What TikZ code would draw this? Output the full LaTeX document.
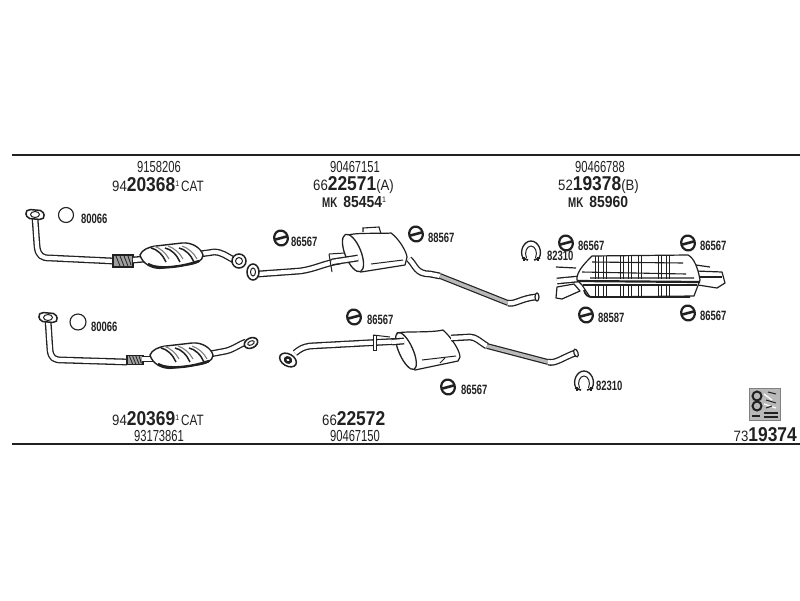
\documentclass[tikz,border=0pt]{standalone}
\usepackage{fontspec}
\setmainfont{Liberation Sans}
\newfontfamily\nrw{Liberation Sans}[FakeStretch=0.88]
\newfontfamily\nrwc{Liberation Sans}[FakeStretch=0.78]
\newfontfamily\nrws{Liberation Sans}[FakeStretch=0.7]
\newfontfamily\nrwb{Liberation Sans Bold}[FakeStretch=0.87]
\newfontfamily\codefont{Liberation Sans Bold}[FakeStretch=0.7]
\definecolor{ink}{gray}{0.13}
\newcommand{\pn}[2]{{\fontsize{15}{15}\nrw #1}{\fontsize{20}{20}\nrwb #2}}
\newcommand{\supone}{\raisebox{5pt}{\fontsize{8}{8}\nrw 1}}
\newcommand{\catword}{\hspace{2pt}{\fontsize{15}{15}\nrwc CAT}}
\tikzset{
  x=1pt,y=-1pt,
  small/.style={font=\fontsize{16}{16}\nrws,text=ink,inner sep=0pt},
  code/.style={font=\fontsize{13.5}{13.5}\codefont,text=ink,inner sep=0pt,anchor=west},
  title/.style={text=ink,inner sep=0pt},
  mk/.style={font=\fontsize{16}{16}\nrwb,text=ink,inner sep=0pt},
  rulerline/.style={line width=2pt,draw=ink},
  pipe/.style={draw=ink,double=white,line width=1.3pt,double distance=4.2pt,line join=round},
  hatched/.style={draw=ink,double=gray!55,line width=1.2pt,double distance=3.4pt,line join=round},
  part/.style={draw=ink,fill=white,line width=1.2pt,line join=round},
  thin part/.style={draw=ink,line width=.8pt},
  hanger/.pic={
    \draw[ink,line width=2.2pt,fill=white,rotate=15] (0,0) ellipse (6.8 and 7.5);
    \draw[ink,line width=2.6pt,rotate=15] (-6,0) -- (6,0);
  },
  clamp/.pic={
    \draw[ink,line width=1.3pt,line join=round] (-8,7) .. controls (-12,0) and (-7,-10) .. (0,-10) .. controls (7,-10) and (12,0) .. (8,7);
    \draw[ink,line width=1pt] (-4.5,7) .. controls (-7,1) and (-4,-5) .. (0,-5) .. controls (4,-5) and (7,1) .. (4.5,7);
    \draw[ink,line width=1.6pt] (-9,7) -- (-3,9) (9,7) -- (3,9);
    \draw[ink,line width=1.3pt] (-7,6) -- (-7,10) (7,6) -- (7,10);
  },
  flangetop/.pic={
    \draw[ink,line width=1.5pt,fill=white,rotate=-5,rounded corners=2pt] (-10,-2) -- (-7,-5) -- (7,-5) -- (10,1) -- (7,4) -- (-7,4) -- cycle;
    \draw[ink,line width=1pt,fill=white] (0,-.5) ellipse (4.5 and 3);
  },
  flex/.pic={
    \fill[gray!75] (-9,-6) rectangle (9,6);
    \draw[ink,line width=1.3pt] (-10,-6) -- (10,-6) -- (10,6) -- (-10,6) -- cycle;
    \draw[ink,line width=.8pt] (-7,-5) -- (-3,5) (-3,-5) -- (1,5) (1,-5) -- (5,5) (5,-5) -- (8,4);
  },
  cat/.pic={
    \draw[part,line width=1.4pt] (-32,-1) .. controls (-30,-6) and (-24,-9) .. (-16,-10) -- (10,-13) .. controls (20,-14) and (29,-8) .. (31,-1) .. controls (31,5) and (24,8) .. (14,9) -- (-8,12) .. controls (-20,14) and (-30,7) .. (-32,-1) -- cycle;
    \draw[ink,line width=2.4pt] (-24,8) .. controls (-14,14) and (10,11) .. (27,5);
    \foreach \dx in {-14,0,14}{
      \draw[ink,line width=1.5pt] (\dx-7,-8) .. controls (\dx-1,-7) and (\dx+5,-1) .. (\dx+8,6);
      \draw[gray,line width=1.1pt] (\dx-4,-10) .. controls (\dx+2,-8) and (\dx+8,-3) .. (\dx+11,3);
    }
  }
}
\begin{document}
\begin{tikzpicture}
\useasboundingbox (0,0) rectangle (800,600);
\fill[white] (0,0) rectangle (800,600);
% rules
\coordinate (rt0) at (12,155); \coordinate (rt1) at (800,155);
\coordinate (rb0) at (12,444); \coordinate (rb1) at (800,444);
\draw[rulerline] (rt0) -- (rt1);
\draw[rulerline] (rb0) -- (rb1);

% titles
\node[small] (t1) at (159,166.5) {9158206};
\node[title,anchor=west] (t2) at (112,185) {\pn{94}{20368}\supone\catword};
\node[small] (t3) at (355,166.5) {90467151};
\node[title,anchor=west] (t4) at (313,185) {\pn{66}{22571}{\fontsize{15}{15}\nrw (A)}};
\node[mk,anchor=west] (t5) at (322,201.5) {{\fontsize{14}{14}\codefont MK}\hspace{6pt}85454\supone};
\node[small] (t6) at (600,166.5) {90466788};
\node[title,anchor=west] (t7) at (558,185) {\pn{52}{19378}{\fontsize{15}{15}\nrw (B)}};
\node[mk,anchor=west] (t8) at (568,201.5) {{\fontsize{14}{14}\codefont MK}\hspace{6pt}85960};
\node[title,anchor=west] (b1) at (112,419) {\pn{94}{20369}\supone\catword};
\node[small] (b2) at (159,435.5) {93173861};
\node[title,anchor=west] (b3) at (322,419) {\pn{66}{22572}};
\node[small] (b4) at (355,435.5) {90467150};
\node[title,anchor=east] (b5) at (797,435) {\pn{73}{19374}};

% upper catalytic line
\draw[pipe] (35,218) -- (37,246) .. controls (38,256) and (42,258) .. (50,258) -- (113,261);
\pic at (35,215) {flangetop};
\pic at (123,261) {flex};
\draw[pipe] (133,260) -- (145,259);
\draw[pipe] (200,254) -- (214,252) .. controls (222,252) and (226,256) .. (234,260);
\pic at (172,256) {cat};
\draw[ink,line width=1.5pt,fill=white] (239,261) circle (7);
\draw[ink,line width=1pt] (239,261) circle (3.5);

% upper middle pipe and muffler
\draw[pipe] (258,274) -- (300,271) .. controls (315,269) and (325,263) .. (340,261);
\draw[ink,line width=1.5pt,fill=white] (253,272) ellipse (6 and 8);
\draw[ink,line width=1pt] (253,272) ellipse (2.5 and 4);
\draw[thin part,fill=white,line width=1.1pt] (363,232) -- (363,228) -- (379,227) -- (381,234);
\draw[part] (346,236) .. controls (352,232) and (380,234) .. (391,233) .. controls (398,238) and (406,250) .. (407,257) -- (405,265) -- (361,272) .. controls (352,270) and (343,250) .. (346,236) -- cycle;
\draw[ink,line width=1.3pt,fill=white,rotate around={22:(353,253)}] (353,253) ellipse (8 and 20);
\draw[pipe] (332,262) -- (358,258);
\draw[ink,line width=1pt] (329,254) -- (345,253) (329,254) -- (332,272);
\draw[ink,line width=1pt] (371,264) -- (403,260);
\draw[pipe] (409,259) .. controls (416,266) and (416,274) .. (430,274) -- (440,276);
\draw[hatched] (440,276) -- (508,303);
\draw[pipe] (508,303) .. controls (514,305) and (522,298) .. (536,297);
\draw[ink,line width=1.2pt,fill=white] (537,297) ellipse (2 and 4);

% rear muffler
\draw[ink,line width=1.2pt] (556,267) -- (576,268);
\draw[pipe] (557,281) -- (578,279);
\draw[part] (557,287) -- (556,298) -- (562,299) -- (580,291) -- (574,284) -- cycle;
\draw[ink,line width=1.2pt] (696,265) -- (710,267);
\draw[part] (696,271) -- (722,272) -- (725,283) -- (717,288) -- (698,285) -- cycle;
\draw[ink,line width=1.1pt] (696,277) -- (722,277);
\draw[part] (577,280) .. controls (576,272) and (585,263) .. (592,256) -- (688,255) .. controls (694,258) and (698,268) .. (700,280) -- (694,296) -- (590,297) -- (582,285) -- cycle;
\draw[ink,line width=2.2pt] (577,281) -- (700,282);
\draw[ink,line width=1.1pt] (582,272) -- (686,274) (592,262) -- (683,263) (590,278) -- (694,278);
\draw[ink,line width=1.1pt] (583,285) -- (697,285);
\draw[ink,line width=1.8pt] (584,290) .. controls (585,295) and (588,297) .. (592,297) -- (690,297);
\foreach \sx in {597,605,622,630,640,660,668}{
  \draw[ink,line width=1pt] (\sx-2,256) -- (\sx-2,279) (\sx+1.5,256) -- (\sx+1.5,279);
  \draw[ink,line width=1pt] (\sx-2,285) -- (\sx-2,296) (\sx+1.5,285) -- (\sx+1.5,296);
}

% lower catalytic line
\draw[pipe] (48,320) -- (50,350) .. controls (51,358) and (54,360) .. (62,360) -- (127,362);
\pic at (48,318) {flangetop};
\pic[scale=.8] at (135,360) {flex};
\draw[pipe] (142,359) -- (155,359);
\draw[pipe] (210,354) -- (226,351) .. controls (234,349) and (240,344) .. (246,342);
\pic at (182,356) {cat};
\draw[ink,line width=1.6pt,fill=white,rotate around={25:(251,343)}] (251,343) ellipse (7 and 5);
\draw[ink,line width=1pt,rotate around={25:(251,343)}] (251,343) ellipse (3.5 and 2);

% lower middle pipe and muffler
\draw[pipe] (295,353) .. controls (300,349) and (303,347) .. (310,346) -- (403,341);
\draw[ink,line width=1.5pt,fill=white,rotate around={-30:(288,360)}] (288,360) ellipse (9 and 6);
\draw[ink,line width=2.5pt,rotate around={-30:(288,360)}] (288,360) ellipse (3 and 2.5);
\draw[ink,line width=1pt] (373,335) -- (390,337);
\draw[ink,line width=1pt,fill=white] (373,335) rectangle (376,350);
\draw[part] (397,333) .. controls (405,331) and (430,333) .. (443,330) .. controls (450,336) and (460,350) .. (460,357) -- (458,361) -- (415,370) .. controls (405,365) and (396,345) .. (397,333) -- cycle;
\draw[ink,line width=1.3pt,fill=white,rotate around={24:(406,351)}] (406,351) ellipse (7 and 20);
\draw[pipe] (392,342) -- (404,341);
\draw[ink,line width=1pt] (422,360) -- (456,356) (440,363) -- (445,358);
\draw[pipe] (451,338) -- (470,337) .. controls (476,337) and (480,342) .. (487,346);
\draw[hatched] (487,346) -- (548,362);
\draw[pipe] (548,362) .. controls (555,364) and (562,358) .. (575,353);
\draw[ink,line width=1.2pt,fill=white,rotate around={20:(576,353)}] (576,353) ellipse (2 and 4);

% hangers and labels
\pic at (281,238) {hanger}; \node[code] (h1) at (291,242) {86567};
\pic at (416,234) {hanger}; \node[code] (h2) at (428,238) {88567};
\pic at (566,243) {hanger}; \node[code] (h3) at (578,246) {86567};
\pic at (688,243) {hanger}; \node[code] (h4) at (700,246) {86567};
\pic at (586,315) {hanger}; \node[code] (h5) at (598,318) {88587};
\pic at (688,313) {hanger}; \node[code] (h6) at (700,316) {86567};
\pic at (354,317) {hanger}; \node[code] (h7) at (367,320) {86567};
\pic at (448,387) {hanger}; \node[code] (h8) at (461,390) {86567};

% rings
\draw[ink,line width=1.1pt] (66,215) circle (7.5);
\node[code] (r1) at (81,219) {80066};
\draw[ink,line width=1.1pt] (78,322) circle (8);
\node[code] (r2) at (91,327) {80066};

% clamps
\pic at (531,251) {clamp}; \node[code] (c1) at (547,256) {82310};
\pic at (584,381) {clamp}; \node[code] (c2) at (596,386) {82310};

% document icon
\fill[gray!55] (749,388) rectangle (780,420);
\draw[gray,line width=.8pt] (749,388) rectangle (780,420);
\draw[ink,line width=2pt] (757,396) circle (4.5) (757,406) circle (4.5);
\draw[ink,line width=1.5pt] (764,413) -- (778,413) (764,417) -- (778,417) (752,416) -- (760,416);
\draw[white,line width=1.2pt] (764,394) -- (772,400) (764,404) -- (776,408);
\draw[ink,line width=1pt] (768,392) -- (776,394) (766,400) -- (776,403) (766,408) -- (772,406);
\end{tikzpicture}
\end{document}
